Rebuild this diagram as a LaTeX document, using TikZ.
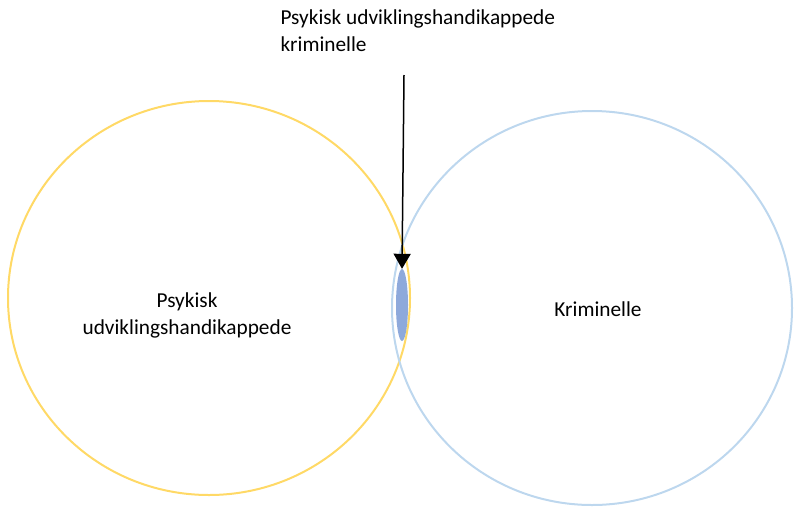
\documentclass[tikz,border=0pt]{standalone}
\usepackage{fontspec}
\setmainfont{Carlito}
\usetikzlibrary{arrows.meta,shapes.geometric}

\definecolor{setyellow}{HTML}{FFD966}
\definecolor{setblue}{HTML}{BDD7EE}
\definecolor{overlapblue}{HTML}{8EA9DB}

\tikzset{
	setring/.style={draw=#1, line width=2pt, ellipse, inner sep=0pt},
	lab/.style={font=\fontsize{21.3}{27}\selectfont, align=center},
}

\begin{document}
\begin{tikzpicture}[x=1pt, y=-1pt]
	\def\lw{1.5pt}
	\useasboundingbox (0,0) rectangle (797,507);
	% the two sets
	\node[setring=setyellow, minimum width=402pt, minimum height=394pt] (handicap) at (209,298) {};
	\node[setring=setblue, minimum width=400pt, minimum height=394pt] (crime) at (592,308) {};
	% their overlap
	\node[ellipse, fill=overlapblue, minimum width=12pt, minimum height=72pt, inner sep=0pt] (overlap) at (402,305) {};
	% labels
	\node[lab] (handicaplab) at (187,315) {Psykisk\\udviklingshandikappede};
	\node[lab] (crimelab) at (598,309) {Kriminelle};
	\node[lab, anchor=north west, align=left] (toplab) at (277,6) {Psykisk udviklingshandikappede\\kriminelle};
	% pointer
	\coordinate (pointer) at (404,75);
	\draw[line width=\lw, -{Triangle[width=17pt, length=15pt]}] (pointer) -- (overlap.north);
\end{tikzpicture}
\end{document}
